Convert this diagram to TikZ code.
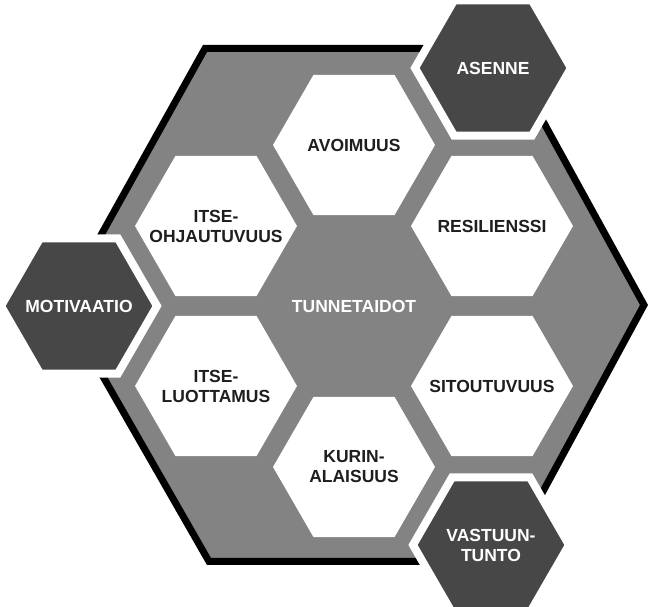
\documentclass[tikz,border=0pt]{standalone}
\usepackage{fontspec}
\setmainfont{Liberation Sans}
\usepackage{tikz}
\usetikzlibrary{positioning,backgrounds}
\usepackage{xcolor}
\definecolor{framegray}{HTML}{838383}
\definecolor{darkhex}{HTML}{474747}
\definecolor{textblack}{HTML}{1E1E1E}

\begin{document}
\begin{tikzpicture}[%
    x=1pt,
    y=1pt,
    on grid,
    node distance=161pt,
    cell/.style={%
      inner sep=0pt,
      text=textblack,
      align=center,
      font=\fontsize{17.5}{20}\selectfont\bfseries
    },
    keycell/.style={%
      cell,
      text=white
    }
  ]
    \useasboundingbox (0,0) rectangle (649,607);

    \node[keycell] (tunne) at (354,301)                        {TUNNETAIDOT};
    \node[cell] (avoimuus) [above=of tunne]                     {AVOIMUUS};
    \node[cell] (resil) [above right=80pt and 138pt of tunne]   {RESILIENSSI};
    \node[cell] (sitou) [below right=80pt and 138pt of tunne]   {SITOUTUVUUS};
    \node[cell] (kurin) [below=of tunne]                        {KURIN-\\ALAISUUS};
    \node[cell] (luott) [below left=80pt and 138pt of tunne]    {ITSE-\\LUOTTAMUS};
    \node[cell] (ohjaus) [above left=80pt and 138pt of tunne]   {ITSE-\\OHJAUTUVUUS};

    \node[keycell] (asenne) [above right=238pt and 139pt of tunne] {ASENNE};
    \node[keycell] (vastuu) [below right=239pt and 137pt of tunne] {VASTUUN-\\TUNTO};
    \node[keycell] (motiv) [left=275pt of tunne]                   {MOTIVAATIO};

    \begin{scope}[on background layer, line join=miter]
      % outer frame
      \draw[fill=framegray, line width=7pt]
        (205,558.5) -- (503,558.5) -- (644,302) -- (505,45.5)
        -- (209,45.5) -- (62,302) -- cycle;
      % hexagons
      \foreach \n in {avoimuus,resil,sitou,kurin,luott,ohjaus}
        \fill[white] (\n.center) ++(0:81) -- ++(120:81) -- ++(180:81)
          -- ++(240:81) -- ++(300:81) -- ++(0:81) -- cycle;
      \foreach \n in {asenne,vastuu,motiv}
        \draw[fill=darkhex, draw=white, line width=8pt]
          (\n.center) ++(0:78) -- ++(120:78) -- ++(180:78)
          -- ++(240:78) -- ++(300:78) -- ++(0:78) -- cycle;
    \end{scope}
  \end{tikzpicture}
\end{document}
